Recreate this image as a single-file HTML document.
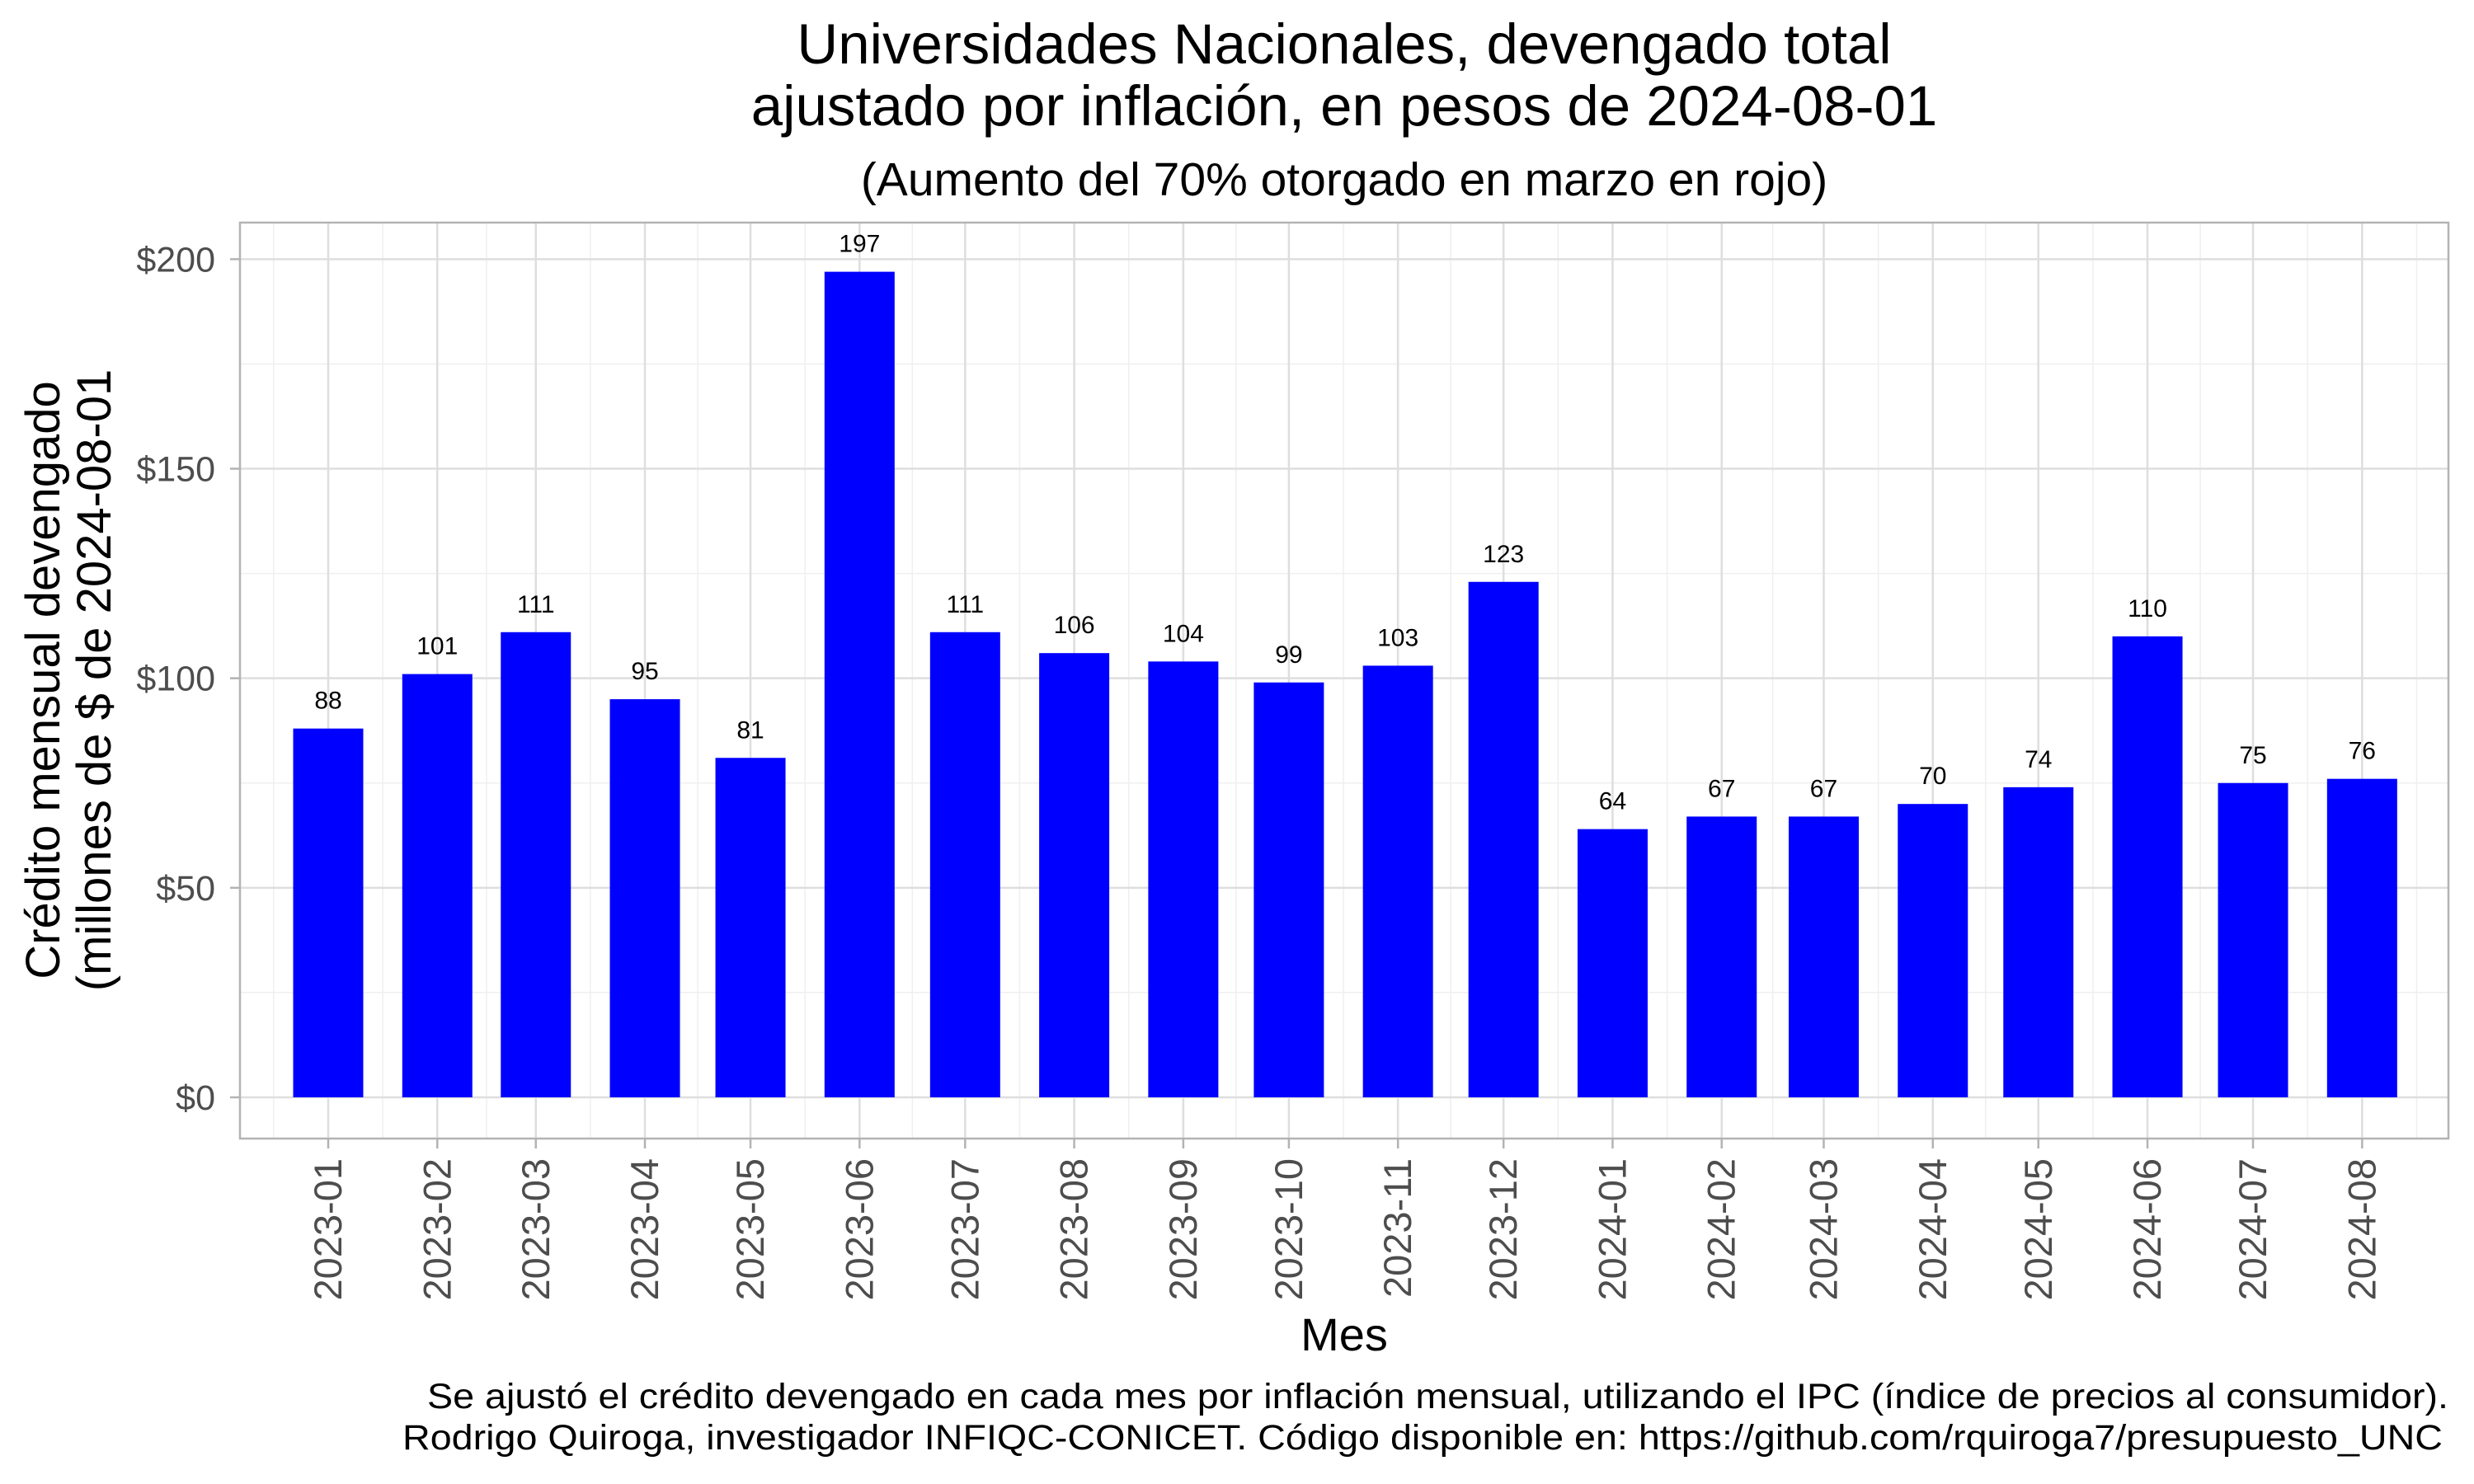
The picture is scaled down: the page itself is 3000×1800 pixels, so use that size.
<!DOCTYPE html>
<html><head><meta charset="utf-8"><style>
html,body{margin:0;padding:0;background:#fff}
svg{display:block;font-family:"Liberation Sans",Arial,sans-serif}
</style></head><body>
<svg id="chart" width="3000" height="1800" viewBox="0 0 3000 1800" xmlns="http://www.w3.org/2000/svg">
<rect width="3000" height="1800" fill="#fff"/>
<text x="1630" y="77" font-size="69" text-anchor="middle" fill="#000">Universidades Nacionales, devengado total</text>
<text x="1630" y="152" font-size="69" text-anchor="middle" fill="#000">ajustado por inflación, en pesos de 2024-08-01</text>
<text x="1630" y="237" font-size="57" text-anchor="middle" fill="#000">(Aumento del 70% otorgado en marzo en rojo)</text>
<g id="grid"></g>
<g id="bars"></g>
<g id="labels"></g>
<rect x="291" y="270" width="2678" height="1111" fill="none" stroke="#B3B3B3" stroke-width="2.5"/>
<g id="yaxis"></g>
<g id="xaxis"></g>
<g transform="translate(72,825) rotate(-90)">
<text x="0" y="0" font-size="58" text-anchor="middle" fill="#000">Crédito mensual devengado</text>
<text x="0" y="62" font-size="58" text-anchor="middle" fill="#000">(millones de $ de 2024-08-01</text>
</g>
<text x="1630" y="1638" font-size="56" text-anchor="middle" fill="#000">Mes</text>
<text x="2969" y="1708" font-size="43" text-anchor="end" textLength="2451" lengthAdjust="spacingAndGlyphs" fill="#000">Se ajustó el crédito devengado en cada mes por inflación mensual, utilizando el IPC (índice de precios al consumidor).</text>
<text x="2962" y="1758" font-size="43" text-anchor="end" textLength="2474" lengthAdjust="spacingAndGlyphs" fill="#000">Rodrigo Quiroga, investigador INFIQC-CONICET. Código disponible en: https://github.com/rquiroga7/presupuesto_UNC</text>
</svg>
<script>
const months = ["2023-01","2023-02","2023-03","2023-04","2023-05","2023-06","2023-07","2023-08","2023-09","2023-10","2023-11","2023-12","2024-01","2024-02","2024-03","2024-04","2024-05","2024-06","2024-07","2024-08"];
const values = [88,101,111,95,81,197,111,106,104,99,103,123,64,67,67,70,74,110,75,76];
const yTicks = [0,50,100,150,200];
const yTickLabels = ["$0","$50","$100","$150","$200"];
const yMinor = [25,75,125,175];

const NS="http://www.w3.org/2000/svg";
const PL=291,PR=2969,PT=270,PB=1381;
function day(m){const [y,mo]=m.split("-").map(Number);return Date.UTC(y,mo-1,1)/86400000;}
const d0=day("2023-01");
function xs(m){return 398+(day(m)-d0)*4.267;}
function ys(v){return 1331-v*5.0832;}
function mk(tag,attrs,parent){const e=document.createElementNS(NS,tag);for(const k in attrs)e.setAttribute(k,attrs[k]);parent.appendChild(e);return e;}
const grid=document.getElementById("grid"),bars=document.getElementById("bars"),labels=document.getElementById("labels"),yax=document.getElementById("yaxis"),xax=document.getElementById("xaxis");

yMinor.forEach(v=>{const l=mk("line",{x1:PL,x2:PR,y1:ys(v),y2:ys(v),stroke:"#EFEFEF","stroke-width":1.5},grid);

});
for(let i=0;i<=months.length;i++){
  let x;
  if(i===0) x=xs(months[0])-(xs(months[1])-xs(months[0]))/2;
  else if(i===months.length) x=xs(months[i-1])+(xs(months[i-1])-xs(months[i-2]))/2;
  else x=(xs(months[i-1])+xs(months[i]))/2;
  if(x<=PL||x>=PR) continue;
  const l=mk("line",{x1:x,x2:x,y1:PT,y2:PB,stroke:"#EFEFEF","stroke-width":1.5},grid);
  
  
}
yTicks.forEach((v,i)=>{
  const l=mk("line",{x1:PL,x2:PR,y1:ys(v),y2:ys(v),stroke:"#DEDEDE","stroke-width":2.5},grid);
  
  
  const t=mk("line",{x1:PL-12,x2:PL,y1:ys(v),y2:ys(v),stroke:"#B3B3B3","stroke-width":2.5},yax);
  
  
  const tx=mk("text",{x:PL-30,y:ys(v)+15,"font-size":43,"text-anchor":"end",fill:"#4D4D4D"},yax);
  tx.textContent=yTickLabels[i];
  
  
});
months.forEach((m,i)=>{
  const x=xs(m);
  const g=mk("line",{x1:x,x2:x,y1:PT,y2:PB,stroke:"#DEDEDE","stroke-width":2.5},grid);
  
  
  const b=mk("rect",{x:x-42.5,y:ys(values[i]),width:85,height:ys(0)-ys(values[i]),fill:"#0000FF"},bars);
  
  
  const lb=mk("text",{x:x,y:ys(values[i])-24,"font-size":30,"text-anchor":"middle",fill:"#000"},labels);
  lb.textContent=values[i];
  
  
  const t=mk("line",{x1:x,x2:x,y1:PB,y2:PB+12,stroke:"#B3B3B3","stroke-width":2.5},xax);
  
  
  const tx=mk("text",{x:0,y:0,"font-size":47,"text-anchor":"end",fill:"#4D4D4D",transform:`translate(${x+16},${PB+24}) rotate(-90)`},xax);
  tx.textContent=m;
  
  
});
</script>
</body></html>
